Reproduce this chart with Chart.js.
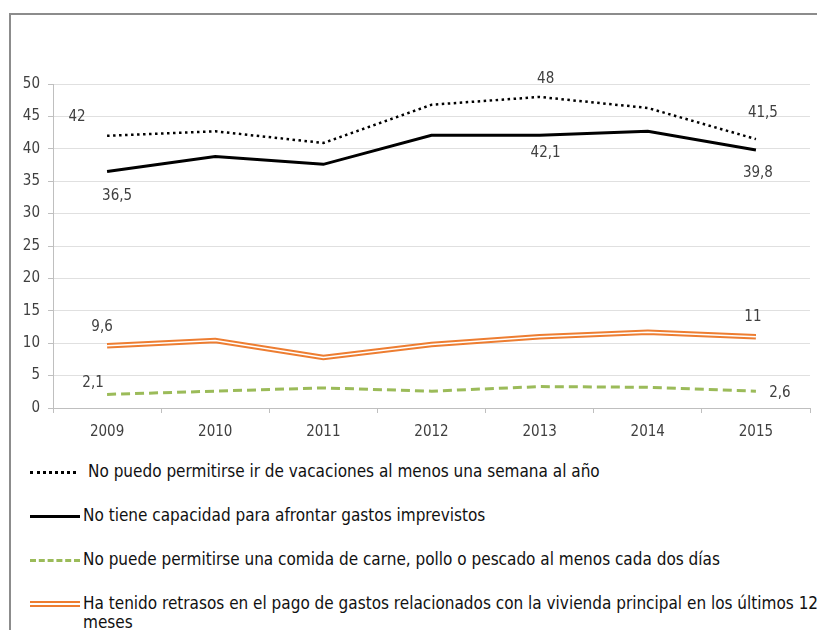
<!DOCTYPE html>
<html>
<head>
<meta charset="utf-8">
<script src="https://cdn.jsdelivr.net/npm/chart.js@4.4.0/dist/chart.umd.min.js"></script>
<style>
  body { margin: 0; background: #fff; font-family: "Liberation Sans Narrow", "DejaVu Sans Condensed", sans-serif; }
  #wrap { position: relative; width: 817px; height: 630px; overflow: hidden; }
  #frame { position: absolute; left: 9px; top: 13px; width: 820px; height: 640px; border-top: 2px solid #8c8c8c; border-left: 2px solid #8c8c8c; }
  #box { position: absolute; left: 0; top: 0; width: 817px; height: 445px; }
  .leg { position: absolute; left: 30px; font-size: 17px; color: #111; line-height: 19px; }
  .leg .s { position: absolute; left: 0; width: 50px; top: 8px; }
  .leg .t { position: absolute; left: 53px; top: -1px; white-space: nowrap; }
</style>
</head>
<body>
<div id="wrap">
  <div id="frame"></div>
  <div id="box"><canvas id="chart" width="817" height="445"></canvas></div>
  <div class="leg" style="top:463px"><div class="s" style="border-top:3px dotted #000;width:46px"></div><div class="t" style="left:58px" id="l0"></div></div>
  <div class="leg" style="top:507px"><div class="s" style="border-top:3px solid #000"></div><div class="t" id="l1"></div></div>
  <div class="leg" style="top:551px"><div class="s" style="border-top:3px dashed #9bbb59"></div><div class="t" id="l2"></div></div>
  <div class="leg" style="top:595px"><div class="s" style="border-top:6px double #ed7d31;top:6px"></div><div class="t" id="l3" style="white-space:normal;width:750px"></div></div>
</div>
<script>
const years = ['2009', '2010', '2011', '2012', '2013', '2014', '2015'];
const yTicks = [0, 5, 10, 15, 20, 25, 30, 35, 40, 45, 50];

const seriesNames = [
  'No puedo permitirse ir de vacaciones al menos una semana al año',
  'No tiene capacidad para afrontar gastos imprevistos',
  'No puede permitirse una comida de carne, pollo o pescado al menos cada dos días',
  'Ha tenido retrasos en el pago de gastos relacionados con la vivienda principal en los últimos 12 meses'
];

const vacaciones = [42, 42.7, 40.9, 46.8, 48, 46.3, 41.5];
const imprevistos = [36.5, 38.8, 37.6, 42.1, 42.1, 42.7, 39.8];
const comida = [2.1, 2.6, 3.1, 2.6, 3.3, 3.2, 2.6];
const retrasos = [9.6, 10.4, 7.8, 9.8, 11.0, 11.7, 11];

// value labels: which dataset, which point, text and offset from the point
const valueLabels = [
  { ds: 0, i: 0, text: '42', dx: -30, dy: -19 },
  { ds: 1, i: 0, text: '36,5', dx: 10, dy: 25 },
  { ds: 0, i: 4, text: '48', dx: 6, dy: -18 },
  { ds: 1, i: 4, text: '42,1', dx: 6, dy: 18 },
  { ds: 0, i: 6, text: '41,5', dx: 7, dy: -26 },
  { ds: 1, i: 6, text: '39,8', dx: 2, dy: 23 },
  { ds: 3, i: 0, text: '9,6', dx: -5, dy: -19 },
  { ds: 2, i: 0, text: '2,1', dx: -14, dy: -11 },
  { ds: 3, i: 6, text: '11', dx: -3, dy: -20 },
  { ds: 2, i: 6, text: '2,6', dx: 24, dy: 2 }
];

seriesNames.forEach((n, k) => { document.getElementById('l' + k).textContent = n; });

const fontFam = '"Liberation Sans Narrow", "DejaVu Sans Condensed", sans-serif';

const labelPlugin = {
  id: 'valueLabels',
  afterDatasetsDraw(chart) {
    const ctx = chart.ctx;
    ctx.save();
    ctx.font = '15px ' + fontFam;
    ctx.fillStyle = '#404040';
    ctx.textAlign = 'center';
    ctx.textBaseline = 'middle';
    valueLabels.forEach(l => {
      const pt = chart.getDatasetMeta(l.ds).data[l.i];
      ctx.fillText(l.text, pt.x + l.dx, pt.y + l.dy);
    });
    ctx.restore();
  }
};

const ctx = document.getElementById('chart').getContext('2d');
new Chart(ctx, {
  type: 'line',
  data: {
    labels: years,
    datasets: [
      { label: seriesNames[0], data: vacaciones, borderColor: '#000', borderWidth: 2.5, borderDash: [2.5, 3.5], pointRadius: 0, tension: 0 },
      { label: seriesNames[1], data: imprevistos, borderColor: '#000', borderWidth: 3, pointRadius: 0, tension: 0 },
      { label: seriesNames[2], data: comida, borderColor: '#9bbb59', borderWidth: 3, borderDash: [9, 5], pointRadius: 0, tension: 0 },
      { label: seriesNames[3], data: retrasos, borderColor: '#ed7d31', borderWidth: 5.5, pointRadius: 0, tension: 0, order: 2 },
      // white core of the double orange line
      { label: '', data: retrasos, borderColor: '#fff', borderWidth: 1.5, pointRadius: 0, tension: 0, order: -1 }
    ]
  },
  options: {
    responsive: false,
    animation: false,
    devicePixelRatio: 1,
    layout: { padding: { top: 84, right: 7, left: 0, bottom: 0 } },
    plugins: {
      legend: { display: false },
      tooltip: { enabled: false }
    },
    scales: {
      x: {
        offset: true,
        grid: { offset: true, drawOnChartArea: false, drawTicks: true, tickLength: 5, color: '#bfbfbf' },
        border: { color: '#bfbfbf', width: 1 },
        ticks: { color: '#404040', font: { size: 15, family: fontFam }, padding: 10 },
        afterFit(s) { s.height = 37; }
      },
      y: {
        min: 0,
        max: 50,
        afterBuildTicks(s) { s.ticks = yTicks.map(v => ({ value: v })); },
        grid: { color: '#e0e0e0', tickLength: 5, tickColor: '#bfbfbf' },
        border: { color: '#bfbfbf', width: 1 },
        ticks: { color: '#404040', font: { size: 15, family: fontFam }, padding: 8 },
        afterFit(s) { s.width = 53; }
      }
    }
  },
  plugins: [labelPlugin]
});
</script>
</body>
</html>
